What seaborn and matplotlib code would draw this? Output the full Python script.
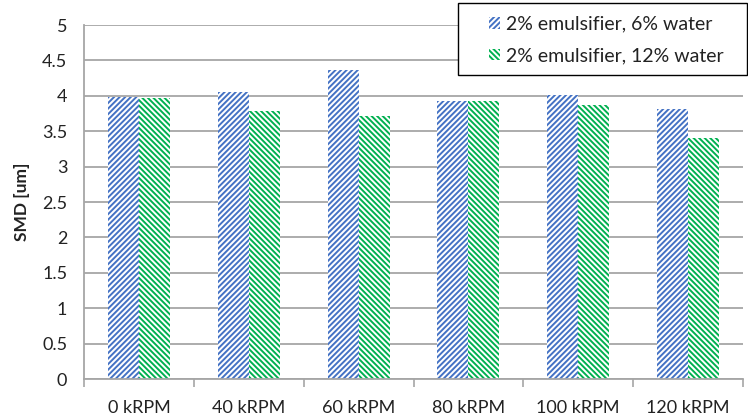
import matplotlib
matplotlib.use("Agg")
import matplotlib.pyplot as plt
import seaborn as sns
import pandas as pd
import numpy as np
from matplotlib.patches import Patch, Rectangle

speeds = ["0 kRPM", "40 kRPM", "60 kRPM", "80 kRPM", "100 kRPM", "120 kRPM"]
smd_6_water = [3.99, 4.05, 4.36, 3.93, 4.01, 3.82]
smd_12_water = [3.97, 3.78, 3.72, 3.93, 3.87, 3.41]
series = ["2% emulsifier, 6% water", "2% emulsifier, 12% water"]
colors = ["#4472C4", "#00B050"]
hatches = ["//////", "\\\\\\\\\\\\"]

df = pd.DataFrame({
    "speed": speeds * 2,
    "smd": smd_6_water + smd_12_water,
    "series": [series[0]] * len(speeds) + [series[1]] * len(speeds),
})

sns.set_theme(style="white")
plt.rcParams["font.family"] = ["Lato", "DejaVu Sans"]
plt.rcParams["hatch.linewidth"] = 1.4

W, H = 748, 419
fig = plt.figure(figsize=(W / 100, H / 100), dpi=100)
ax = fig.add_axes([84 / W, 40 / H, (743 - 84) / W, (379 - 25) / H])

sns.barplot(data=df, x="speed", y="smd", hue="series", order=speeds,
            hue_order=series, width=0.565, ax=ax, legend=False)

# hatched fills on white, no outline
n = len(speeds)
for i, bar in enumerate(ax.patches[:2 * n]):
    k = i // n
    bar.set_facecolor("white")
    bar.set_edgecolor(colors[k])
    bar.set_hatch(hatches[k])
    bar.set_linewidth(0)

ax.set_ylim(0, 5)
ax.set_xlim(-0.5, n - 0.5)
ax.set_yticks(np.arange(0, 5.01, 0.5))
ax.set_yticklabels(["0", "0.5", "1", "1.5", "2", "2.5", "3", "3.5", "4", "4.5", "5"])
ax.yaxis.grid(True, color="#A6A6A6", linewidth=1.3)
ax.set_axisbelow(True)

ax.set_xticks(range(n))
ax.set_xticklabels(speeds)
ax.set_xticks(np.arange(-0.5, n, 1.0), minor=True)
ax.tick_params(axis="x", which="major", length=0, pad=15, labelsize=13, colors="#222222")
ax.tick_params(axis="x", which="minor", bottom=True, length=6, width=1.2,
               color="#A6A6A6", direction="out")
ax.tick_params(axis="y", length=6, width=1.3, color="#A6A6A6", direction="out",
               labelsize=13, labelcolor="#222222", pad=6)

for side in ["top", "right"]:
    ax.spines[side].set_visible(False)
for side in ["left", "bottom"]:
    ax.spines[side].set_color("#A6A6A6")
    ax.spines[side].set_linewidth(1.3)

ax.set_xlabel("")
ax.set_ylabel("SMD [um]", fontsize=12.5, fontweight="bold", color="#222222", labelpad=9)

# legend box: white panel with a thin black frame in the upper right corner
box = Rectangle((458 / W, 1 - 75 / H), (747 - 458) / W, 72 / H,
                transform=fig.transFigure, facecolor="white", edgecolor="black",
                linewidth=1.0, zorder=3)
fig.patches.append(box)

handles = [Patch(facecolor="white", edgecolor=c, hatch=h, linewidth=0)
           for c, h in zip(colors, hatches)]
leg = fig.legend(handles, series, loc="center left",
                 bbox_to_anchor=(489 / W, 1 - 40 / H), borderaxespad=0, borderpad=0,
                 fontsize=14, frameon=False,
                 handlelength=0.55, handleheight=0.55,
                 handletextpad=0.35, labelspacing=0.75)
leg.set_zorder(4)
for t in leg.get_texts():
    t.set_color("#222222")

fig.savefig("out.png", dpi=100)
